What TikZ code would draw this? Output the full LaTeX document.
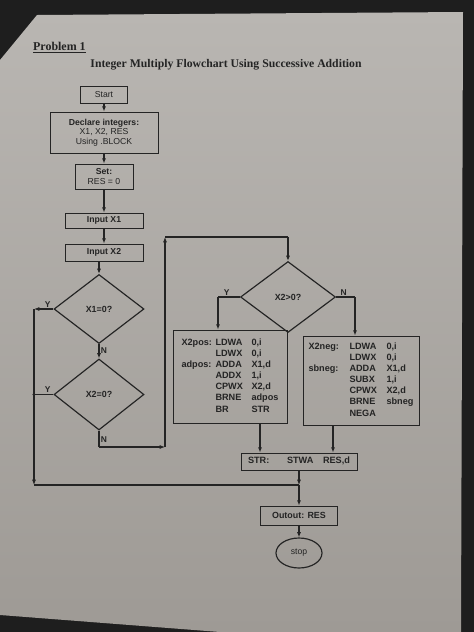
\documentclass[tikz,border=0pt]{standalone}
\usepackage{fontspec}
\setmainfont{Liberation Serif}
\setsansfont{Liberation Sans}
\usetikzlibrary{shapes.geometric,arrows.meta}

\definecolor{ink}{HTML}{242424}
\definecolor{papertop}{HTML}{B9B6B2}
\definecolor{paperbot}{HTML}{9E9A95}
\definecolor{backdrop}{HTML}{1E1E1E}

\begin{document}
\begin{tikzpicture}
      [
        x = 0.03cm, y = -0.03cm,
        >={Latex[length=4.5pt,width=3.5pt]},
        every node/.style = {font=\sffamily\fontsize{7.4}{8.3}\selectfont, text=ink},
        box/.style = {draw=ink, line width=0.75pt, inner sep=1pt},
        decision/.style = {diamond, draw=ink, line width=1pt, inner sep=0pt,
                           font=\sffamily\bfseries\fontsize{7.6}{9}\selectfont},
        code/.style = {box, font=\sffamily\bfseries\fontsize{7.8}{9.5}\selectfont},
        flow/.style = {draw=ink, line width=1pt},
        yn/.style = {font=\sffamily\bfseries\fontsize{7.2}{8}\selectfont, inner sep=1pt},
      ]

      % photo background and sheet
      \fill[backdrop] (0,0) rectangle (474,632);
      \shade[top color=papertop, bottom color=paperbot]
        (0,60) -- (37,15) -- (463,12) -- (461,632) -- (220,632) -- (0,615) -- cycle;
      \useasboundingbox (0,0) rectangle (474,632);

      \node[anchor=base west, font=\rmfamily\bfseries\fontsize{10.2}{12}\selectfont] (problem) at (29,50) {\underline{Problem 1}};
      \node[anchor=base, font=\rmfamily\bfseries\fontsize{10}{12}\selectfont] (title) at (226,67) {Integer Multiply Flowchart Using Successive Addition};

      % left column
      \node[box, minimum width=1.41cm, minimum height=0.51cm] (start) at (104,94.5) {Start};
      \node[box, minimum width=3.24cm, minimum height=1.23cm, align=center] (declare) at (104,132.5)
        {\textbf{Declare integers:}\\X1, X2, RES\\Using .BLOCK};
      \node[box, minimum width=1.74cm, minimum height=0.75cm, align=center] (setres) at (104,176.5)
        {\textbf{Set:}\\RES = 0};
      \node[box, minimum width=2.34cm, minimum height=0.45cm, font=\sffamily\bfseries\fontsize{7.4}{8}\selectfont] (inx1) at (104,220.5) {Input X1};
      \node[box, minimum width=2.34cm, minimum height=0.51cm, font=\sffamily\bfseries\fontsize{7.4}{8}\selectfont] (inx2) at (104,252.5) {Input X2};
      \node[decision, minimum width=2.7cm, minimum height=2.07cm] (dx1) at (99,309) {X1=0?};
      \node[decision, minimum width=2.7cm, minimum height=2.13cm] (dx2) at (99,394.5) {X2=0?};

      % right part
      \node[decision, minimum width=2.85cm, minimum height=2.13cm] (dpos) at (288,297) {X2>0?};

      \node[code, minimum width=3.42cm, minimum height=2.79cm] (pos) at (230,376.5) {%
        \begin{tabular}{@{}p{1.02cm}@{}p{1.08cm}@{}l@{}}
          X2pos: & LDWA & 0,i\\
                 & LDWX & 0,i\\
          adpos: & ADDA & X1,d\\
                 & ADDX & 1,i\\
                 & CPWX & X2,d\\
                 & BRNE & adpos\\
                 & BR   & STR
        \end{tabular}};
      \node[code, minimum width=3.48cm, minimum height=2.67cm] (neg) at (361,380.5) {%
        \begin{tabular}{@{}p{1.23cm}@{}p{1.11cm}@{}l@{}}
          X2neg: & LDWA & 0,i\\
                 & LDWX & 0,i\\
          sbneg: & ADDA & X1,d\\
                 & SUBX & 1,i\\
                 & CPWX & X2,d\\
                 & BRNE & sbneg\\
                 & NEGA &
        \end{tabular}};

      \node[code, minimum width=3.48cm, minimum height=0.51cm] (str) at (299,461.5) {%
        \begin{tabular}{@{}p{1.17cm}@{}p{1.08cm}@{}l@{}}
          STR: & STWA & RES,d
        \end{tabular}};
      \node[box, minimum width=2.31cm, minimum height=0.57cm, font=\sffamily\bfseries\fontsize{7.6}{9}\selectfont] (out) at (299,515.5) {Outout: RES};
      \node[ellipse, draw=ink, line width=1pt, minimum width=1.38cm, minimum height=0.9cm, inner sep=0pt] (stop) at (299,553) {stop};

      % turning points
      \coordinate (ly1) at (34,309);
      \coordinate (ly2) at (34,394.5);
      \coordinate (lb) at (34,485);
      \coordinate (jn) at (299,485);
      \coordinate (n2) at (99,447);
      \coordinate (n2r) at (165,447);
      \coordinate (lt) at (165,237);
      \coordinate (tr) at (288,237);
      \coordinate (yl) at (218,297);
      \coordinate (nr) at (355,297);
      \coordinate (pb) at ([xshift=0.9cm]pos.south);
      \coordinate (nb) at ([xshift=-0.84cm]neg.south);

      \draw[flow,->] (start) -- (start.south |- declare.north);
      \draw[flow,->] (declare) -- (declare.south |- setres.north);
      \draw[flow,->] (setres) -- (setres.south |- inx1.north);
      \draw[flow,->] (inx1) -- (inx1.south |- inx2.north);
      \draw[flow,->] (inx2.south -| dx1) -- (dx1.north);

      \draw[flow,->] (dx1.south) -- node[yn,right,pos=0.45]{N} (dx2.north);
      \draw[flow,->] (dx1.west) -- node[yn,above,pos=0.3]{Y} (ly1);
      \draw[flow,->] (ly1) -- (lb);
      \draw[flow] (lb) -- (jn);
      \draw[flow] (dx2.west) -- node[yn,above,pos=0.3]{Y} (ly2);
      \fill[ink] (ly2) circle (1.4pt);

      \draw[flow] (dx2.south) -- node[yn,right,pos=0.55]{N} (n2);
      \draw[flow,->] (n2) -- (n2r);
      \draw[flow,->] (n2r) -- (lt);
      \draw[flow] (lt) -- (tr);
      \draw[flow,->] (tr) -- (dpos.north);

      \draw[flow] (dpos.west) -- node[yn,above,pos=0.6]{Y} (yl);
      \draw[flow,->] (yl) -- (yl |- pos.north);
      \draw[flow] (dpos.east) -- node[yn,above,pos=0.4]{N} (nr);
      \draw[flow,->] (nr) -- (nr |- neg.north);

      \draw[flow,->] (pb) -- (pb |- str.north);
      \draw[flow,->] (nb) -- (nb |- str.north);
      \draw[flow,->] (str) -- (jn);
      \draw[flow,->] (jn) -- (out);
      \draw[flow,->] (out) -- (stop);
    \end{tikzpicture}
\end{document}
